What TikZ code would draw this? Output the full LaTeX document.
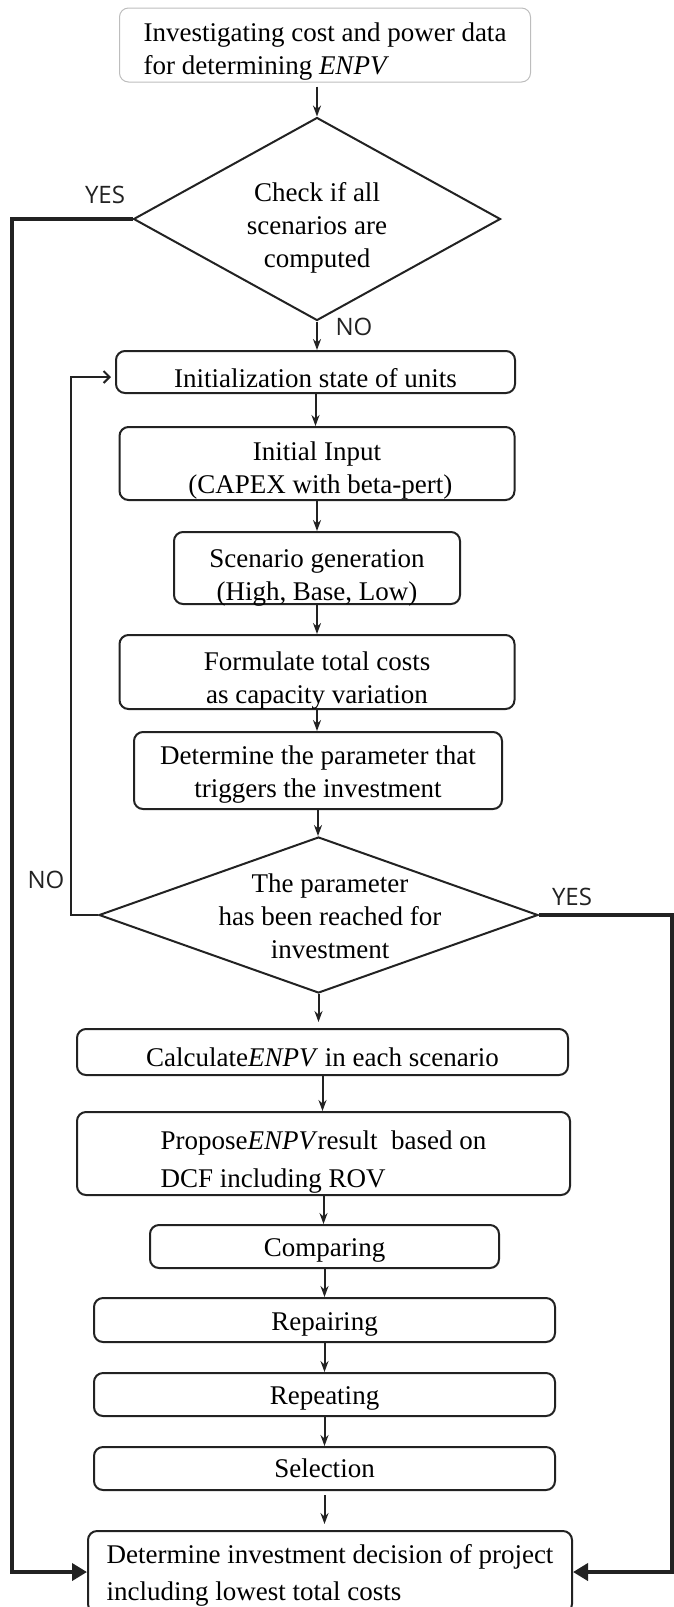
\documentclass[tikz,border=0pt]{standalone}
\usepackage{fontspec}
\setmainfont{Liberation Serif}
\newfontfamily\tagfamily{Open Sans}
\usetikzlibrary{arrows.meta, positioning, shapes.geometric}
\definecolor{boxLine}{HTML}{222222}
\definecolor{boxMuted}{HTML}{BDBDBD}
\newcommand{\boxfont}{\fontsize{27}{33}\selectfont}
\newcommand{\tagfont}{\tagfamily\fontsize{24}{28}\selectfont}
% lower a text inside its box, keeping the box size
\newcommand{\sinktext}[2]{\raisebox{-#1}[\height][\depth]{#2}}
\newcommand{\ctab}[1]{\begin{tabular}{@{}c@{}}#1\end{tabular}}
\newcommand{\ltab}[1]{\begin{tabular}{@{}l@{}}#1\end{tabular}}

\begin{document}
\begin{tikzpicture}[x=1pt, y=-1pt,
    stepbox/.style={draw=boxLine, line width=2pt, rounded corners=9pt,
      inner sep=0pt, align=center, font=\boxfont},
    decision/.style={draw=boxLine, line width=2pt, diamond, inner sep=0pt},
    flow/.style={-{Stealth[length=11pt, width=8pt]}, line width=2pt, boxLine},
    back/.style={-{Straight Barb[length=6pt, width=12pt]}, line width=2pt, boxLine},
    bus/.style={-{Triangle[length=15pt, width=17pt]}, line width=4pt, boxLine},
    tag/.style={font=\tagfont, text=boxLine, inner sep=0pt}]
    \useasboundingbox (0,0) rectangle (674,1607);

    \node[stepbox, draw=boxMuted, line width=1pt, minimum width=411pt, minimum height=74pt] (start) at (325,45)
      {\sinktext{6pt}{\ltab{Investigating cost and power data\\for determining \textit{ENPV}}}};

    \node[decision, minimum width=367pt, minimum height=203pt] (check) at (317,219) {};
    \node[font=\boxfont, align=center] (checktxt) at (317,228)
      {Check if all\\scenarios are\\computed};

    \node[stepbox, minimum width=399pt, minimum height=42pt] (init) at (315.5,372)
      {\sinktext{6pt}{Initialization state of units}};
    \node[stepbox, minimum width=395pt, minimum height=73pt] (input) at (317,463.5)
      {\sinktext{7pt}{\ctab{Initial Input\\\ (CAPEX with beta-pert)}}};
    \node[stepbox, minimum width=286pt, minimum height=72pt] (scen) at (317,568)
      {\sinktext{9pt}{\ctab{Scenario generation\\(High, Base, Low)}}};
    \node[stepbox, minimum width=395pt, minimum height=74pt] (cost) at (317,672)
      {\sinktext{8pt}{\ctab{Formulate total costs\\as capacity variation}}};
    \node[stepbox, minimum width=368pt, minimum height=77pt] (trigger) at (318,770.5)
      {\sinktext{4pt}{\ctab{Determine the parameter that\\triggers the investment}}};

    \node[decision, minimum width=439pt, minimum height=156pt] (reach) at (318.5,915) {};
    \node[font=\boxfont, align=center] (reachtxt) at (330,916)
      {The parameter\\has been reached for\\investment};

    \node[stepbox, minimum width=491pt, minimum height=46pt] (calc) at (322.5,1052)
      {\sinktext{5pt}{Calculate\textit{ENPV} in each scenario}};
    \node[stepbox, minimum width=493pt, minimum height=83pt] (propose) at (323.5,1153.5)
      {\sinktext{8pt}{\ltab{Propose\textit{ENPV}result~ based on\\[5pt]DCF including ROV}}};
    \node[stepbox, minimum width=349pt, minimum height=43pt] (compare) at (324.5,1246.5)
      {\sinktext{4pt}{Comparing}};
    \node[stepbox, minimum width=461pt, minimum height=44pt] (repair) at (324.5,1320)
      {\sinktext{4pt}{Repairing}};
    \node[stepbox, minimum width=461pt, minimum height=43pt] (repeat) at (324.5,1394.5)
      {\sinktext{4pt}{Repeating}};
    \node[stepbox, minimum width=461pt, minimum height=43pt] (select) at (324.5,1468.5)
      {Selection};
    \node[stepbox, minimum width=484pt, minimum height=82pt] (decide) at (330,1572)
      {\sinktext{3pt}{\ltab{Determine investment decision of project\\[4pt]including lowest total costs}}};

    \node[tag] (yesA) at (105,195) {YES};
    \node[tag] (noA) at (354,327) {NO};
    \node[tag] (noB) at (46,880) {NO};
    \node[tag] (yesB) at (572,897) {YES};

    \coordinate (loopc) at (71,377);
    \coordinate (leftc) at (12,1572);
    \coordinate (rightc) at (672,1572);

    \draw[flow] ([yshift=-4pt]start.south -| check.north) -- (check.north);
    \draw[flow] (check.south) -- (check.south |- init.north);
    \draw[flow] (init.south) -- (init.south |- input.north);
    \draw[flow] (input.south) -- (input.south |- scen.north);
    \draw[flow] (scen.south) -- (scen.south |- cost.north);
    \draw[flow] (cost.south) -- (cost.south |- trigger.north);
    \draw[flow] (trigger.south) -- (trigger.south |- reach.north);
    \draw[flow] (reach.south) -- ([yshift=6pt]reach.south |- calc.north);
    \draw[flow] (calc.south) -- (calc.south |- propose.north);
    \draw[flow] (propose.south) -- (propose.south |- compare.north);
    \draw[flow] (compare.south) -- (compare.south |- repair.north);
    \draw[flow] (repair.south) -- (repair.south |- repeat.north);
    \draw[flow] (repeat.south) -- (repeat.south |- select.north);
    \draw[flow] ([yshift=-4pt]select.south) -- ([yshift=6pt]select.south |- decide.north);

    \draw[back, line join=miter] (reach.west) -| (loopc) -- ([xshift=-4pt]init.west |- loopc);
    \draw[bus, line join=miter] (check.west) -| (leftc) -- (decide.west);
    \draw[bus, line join=miter] (reach.east) -| (rightc) -- (decide.east);
  \end{tikzpicture}
\end{document}
